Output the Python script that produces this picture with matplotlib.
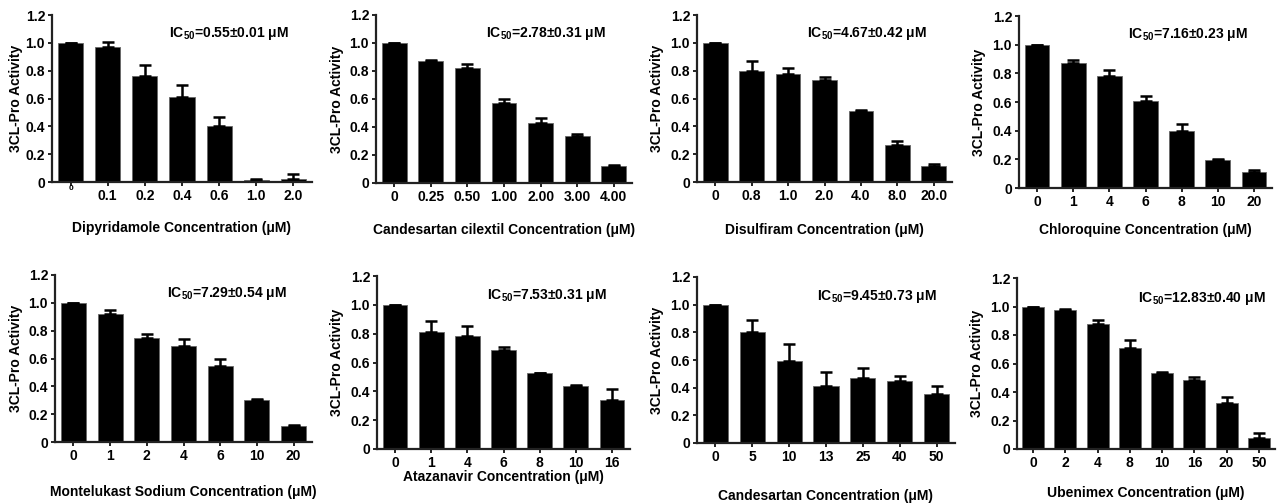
import matplotlib
matplotlib.use("Agg")
import matplotlib.pyplot as plt

plt.rcParams['font.family'] = ['Liberation Sans', 'DejaVu Sans']
plt.rcParams['mathtext.fontset'] = 'custom'
plt.rcParams['mathtext.rm'] = 'Liberation Sans'
plt.rcParams['mathtext.bf'] = 'Liberation Sans:bold'

# ---- data ----
dipy_conc = ["0", "0.1", "0.2", "0.4", "0.6", "1.0", "2.0"]
dipy_val = [1.0, 0.97, 0.76, 0.61, 0.40, 0.012, 0.024]
dipy_err = [0.0, 0.035, 0.084, 0.09, 0.07, 0.012, 0.031]

cand_cil_conc = ["0", "0.25", "0.50", "1.00", "2.00", "3.00", "4.00"]
cand_cil_val = [1.0, 0.869, 0.823, 0.568, 0.43, 0.334, 0.122]
cand_cil_err = [0.0, 0.007, 0.024, 0.029, 0.033, 0.014, 0.007]

disul_conc = ["0", "0.8", "1.0", "2.0", "4.0", "8.0", "20.0"]
disul_val = [1.0, 0.80, 0.777, 0.732, 0.51, 0.266, 0.112]
disul_err = [0.0, 0.071, 0.039, 0.024, 0.009, 0.028, 0.015]

chloro_conc = ["0", "1", "4", "6", "8", "10", "20"]
chloro_val = [1.0, 0.873, 0.783, 0.607, 0.40, 0.197, 0.111]
chloro_err = [0.0, 0.023, 0.037, 0.035, 0.045, 0.002, 0.016]

monte_conc = ["0", "1", "2", "4", "6", "10", "20"]
monte_val = [1.0, 0.92, 0.748, 0.693, 0.545, 0.299, 0.112]
monte_err = [0.0, 0.027, 0.027, 0.046, 0.048, 0.009, 0.008]

ataz_conc = ["0", "1", "4", "6", "8", "10", "16"]
ataz_val = [1.0, 0.809, 0.784, 0.687, 0.525, 0.435, 0.342]
ataz_err = [0.0, 0.081, 0.069, 0.018, 0.002, 0.011, 0.072]

cand_conc = ["0", "5", "10", "13", "25", "40", "50"]
cand_val = [1.0, 0.80, 0.595, 0.415, 0.473, 0.451, 0.355]
cand_err = [0.0, 0.086, 0.118, 0.101, 0.072, 0.036, 0.058]

ubeni_conc = ["0", "2", "4", "8", "10", "16", "20", "50"]
ubeni_val = [1.0, 0.974, 0.876, 0.712, 0.53, 0.481, 0.32, 0.079]
ubeni_err = [0.0, 0.011, 0.032, 0.051, 0.007, 0.021, 0.042, 0.031]

names = ["Dipyridamole", "Candesartan cilextil", "Disulfiram", "Chloroquine",
         "Montelukast Sodium", "Atazanavir", "Candesartan", "Ubenimex"]
ic50 = ["0.55\u00b10.01", "2.78\u00b10.31", "4.67\u00b10.42", "7.16\u00b10.23",
        "7.29\u00b10.54", "7.53\u00b10.31", "9.45\u00b10.73", "12.83\u00b10.40"]
concs = [dipy_conc, cand_cil_conc, disul_conc, chloro_conc,
         monte_conc, ataz_conc, cand_conc, ubeni_conc]
vals = [dipy_val, cand_cil_val, disul_val, chloro_val,
        monte_val, ataz_val, cand_val, ubeni_val]
errs = [dipy_err, cand_cil_err, disul_err, chloro_err,
        monte_err, ataz_err, cand_err, ubeni_err]

# ---- layout (pixels) ----
W, H = 1279, 504
boxes = [(52, 312, 15, 182), (376, 632, 15, 183), (697, 952, 15, 182), (1019, 1272, 16, 188),
         (55, 312, 275, 442), (377, 630, 276, 449), (697, 955, 277, 443), (1017, 1275, 278, 449)]
xlabel_y = [228, 230, 230, 230, 492, 477, 496, 493]
ylabel_dx = [29, 32, 33, 33, 32, 33, 33, 33]
ic_pos = [(0.45, 0.89), (0.43, 0.89), (0.43, 0.89), (0.43, 0.89),
          (0.435, 0.89), (0.435, 0.89), (0.465, 0.88), (0.47, 0.88)]

FS = 10
fig = plt.figure(figsize=(W / 100, H / 100), dpi=100)
spine_col = '#222222'

for i in range(8):
    x0, x1, yt, yb = boxes[i]
    ax = fig.add_axes([x0 / W, (H - yb) / H, (x1 - x0) / W, (yb - yt) / H])
    n = len(vals[i])
    pos = list(range(n))
    ax.bar(pos, vals[i], width=0.68, color='black', edgecolor='#666666', linewidth=0.6,
           yerr=[[0] * n, errs[i]], error_kw=dict(ecolor='black', elinewidth=1.8,
                                                 capsize=4.3, capthick=1.8), zorder=2)
    ax.set_xlim(-0.5, n - 0.5)
    ax.set_ylim(0, 1.2)
    ax.set_yticks([0, 0.2, 0.4, 0.6, 0.8, 1.0, 1.2])
    ax.set_yticklabels(["0", "0.2", "0.4", "0.6", "0.8", "1.0", "1.2"],
                       fontsize=FS, fontweight='bold')
    ax.set_xticks(pos)
    ax.set_xticklabels(concs[i], fontsize=FS, fontweight='bold')
    if i == 0:
        lbl = ax.get_xticklabels()[0]
        lbl.set_fontsize(6)
        lbl.set_y(0.025)
    for s in ['top', 'right']:
        ax.spines[s].set_visible(False)
    for s in ['left', 'bottom']:
        ax.spines[s].set_linewidth(1.6)
        ax.spines[s].set_color(spine_col)
    ax.tick_params(axis='both', direction='out', length=3, width=1.4, color=spine_col, pad=2)
    ax.set_ylabel("3CL-Pro Activity", fontsize=FS, fontweight='bold')
    ax.yaxis.set_label_coords(-ylabel_dx[i] / (x1 - x0), 0.5)
    ax.text(ic_pos[i][0], ic_pos[i][1], r"IC$_{\mathregular{50}}$=" + ic50[i] + " \u03bcM",
            transform=ax.transAxes, fontsize=FS, fontweight='bold', ha='left', va='center')
    fig.text((x0 + x1) / 2 / W, (H - xlabel_y[i]) / H,
             names[i] + " Concentration (\u03bcM)", fontsize=FS, fontweight='bold',
             ha='center', va='center')

fig.savefig("out.png", dpi=100)
